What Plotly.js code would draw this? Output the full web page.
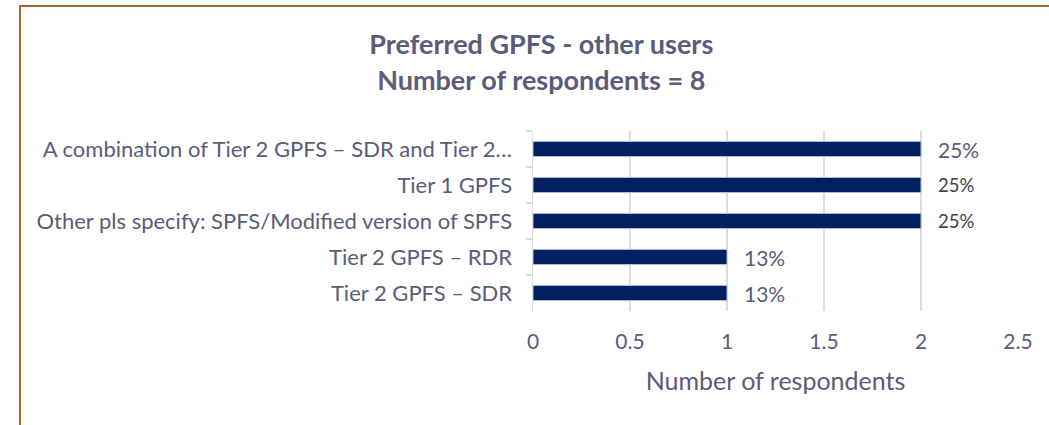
<!DOCTYPE html>
<html>
<head>
<meta charset="utf-8">
<script src="https://cdn.plot.ly/plotly-3.0.1.min.js"></script>
<style>
    html, body { margin: 0; padding: 0; background: #fff; }
    #wrap { position: relative; width: 1049px; height: 425px; overflow: hidden; }
    #frame {
        position: absolute; left: 19px; top: 5px; right: -10px; bottom: -10px;
        border-top: 2px solid #a3663b; border-left: 2px solid #a3663b;
        pointer-events: none;
    }
    #chart { position: absolute; left: 0; top: 0; width: 1049px; height: 425px; }
</style>
</head>
<body>
<div id="wrap">
    <div id="chart"></div>
    <div id="frame"></div>
</div>
<script>
    // --- DATA ---
    const categories = [
        'A combination of Tier 2 GPFS \u2013 SDR and Tier 2\u2026',
        'Tier 1 GPFS',
        'Other pls specify: SPFS/Modified version of SPFS',
        'Tier 2 GPFS \u2013 RDR',
        'Tier 2 GPFS \u2013 SDR'
    ];
    const respondents = [2, 2, 2, 1, 1];
    const shareLabels = ['25%', '25%', '25%', '13%', '13%'];
    const xTicks = [0, 0.5, 1, 1.5, 2, 2.5];

    // --- STYLE ---
    const FONT = 'Lato, "Open Sans", sans-serif';
    const TEXT_COLOR = '#5b5b7a';
    const labelColors = ['#5b5b7a', '#404048', '#404048', '#5b5b7a', '#5b5b7a'];
    const labelSizes = [21, 18.5, 18.5, 21, 21];

    const barTrace = {
        type: 'bar',
        orientation: 'h',
        x: respondents,
        y: categories,
        width: 0.42,
        marker: { color: '#002060', line: { color: '#b4c0da', width: 1 } },
        hoverinfo: 'x+y'
    };

    const labelNotes = respondents.map((v, i) => ({
        x: v,
        y: categories[i],
        text: shareLabels[i],
        showarrow: false,
        xanchor: 'left',
        xshift: 15,
        font: { family: FONT, size: labelSizes[i], color: labelColors[i] }
    }));

    const layout = {
        width: 1049,
        height: 425,
        paper_bgcolor: 'rgba(0,0,0,0)',
        plot_bgcolor: 'rgba(0,0,0,0)',
        margin: { l: 533, r: 31, t: 131, b: 114 },
        font: { family: FONT, color: TEXT_COLOR, size: 20 },
        showlegend: false,
        title: {
            text: '<b>Preferred GPFS - other users</b><br><b>Number of respondents = 8</b>',
            font: { family: FONT, size: 27, color: TEXT_COLOR },
            xref: 'container',
            x: 0.516,
            xanchor: 'center',
            yref: 'container',
            y: 0.872,
            yanchor: 'top'
        },
        xaxis: {
            range: [0, 2.5],
            tickvals: xTicks,
            ticktext: xTicks.map(String),
            showgrid: true,
            gridcolor: '#dcdce3',
            gridwidth: 1.5,
            zeroline: false,
            showline: false,
            ticks: '',
            ticklabelstandoff: 16,
            tickfont: { family: FONT, size: 21, color: TEXT_COLOR },
            title: {
                text: 'Number of respondents',
                font: { family: FONT, size: 25, color: TEXT_COLOR },
                standoff: 20
            },
            fixedrange: true
        },
        yaxis: {
            autorange: 'reversed',
            showgrid: false,
            zeroline: false,
            showline: true,
            linecolor: '#dcdce3',
            linewidth: 1.5,
            ticks: 'outside',
            tickson: 'boundaries',
            ticklen: 6,
            tickcolor: '#dcdce3',
            tickwidth: 1.5,
            ticklabelstandoff: 15,
            tickfont: { family: FONT, size: 22, color: TEXT_COLOR },
            fixedrange: true
        },
        annotations: labelNotes
    };

    Plotly.newPlot('chart', [barTrace], layout, { displayModeBar: false, staticPlot: true });
</script>
</body>
</html>
